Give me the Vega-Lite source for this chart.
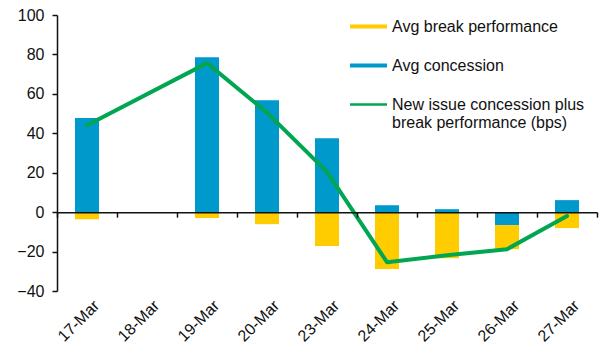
{
  "$schema": "https://vega.github.io/schema/vega-lite/v6.json",
  "width": 540,
  "height": 276,
  "autosize": {"type": "none"},
  "padding": {"left": 57, "top": 15, "right": 16, "bottom": 62},
  "background": "white",
  "config": {
    "view": {"stroke": null},
    "font": "Liberation Sans",
    "axis": {"labelFont": "Liberation Sans", "labelColor": "#111111", "domainColor": "#111111", "tickColor": "#111111", "grid": false, "title": null}
  },
  "datasets": {
    "bars": [
      {"date": "17-Mar", "series": "Avg concession", "ord": 1, "value": 47.7},
      {"date": "17-Mar", "series": "Avg break performance", "ord": 2, "value": -3.6},
      {"date": "19-Mar", "series": "Avg concession", "ord": 1, "value": 78.6},
      {"date": "19-Mar", "series": "Avg break performance", "ord": 2, "value": -3.0},
      {"date": "20-Mar", "series": "Avg concession", "ord": 1, "value": 56.8},
      {"date": "20-Mar", "series": "Avg break performance", "ord": 2, "value": -6.1},
      {"date": "23-Mar", "series": "Avg concession", "ord": 1, "value": 37.5},
      {"date": "23-Mar", "series": "Avg break performance", "ord": 2, "value": -17.2},
      {"date": "24-Mar", "series": "Avg concession", "ord": 1, "value": 3.5},
      {"date": "24-Mar", "series": "Avg break performance", "ord": 2, "value": -28.9},
      {"date": "25-Mar", "series": "Avg concession", "ord": 1, "value": 1.5},
      {"date": "25-Mar", "series": "Avg break performance", "ord": 2, "value": -23.4},
      {"date": "26-Mar", "series": "Avg concession", "ord": 1, "value": -6.6},
      {"date": "26-Mar", "series": "Avg break performance", "ord": 2, "value": -12.2},
      {"date": "27-Mar", "series": "Avg concession", "ord": 1, "value": 6.1},
      {"date": "27-Mar", "series": "Avg break performance", "ord": 2, "value": -8.1}
    ],
    "line": [
      {"date": "17-Mar", "total": 44.1},
      {"date": "19-Mar", "total": 75.6},
      {"date": "20-Mar", "total": 50.5},
      {"date": "23-Mar", "total": 20.4},
      {"date": "24-Mar", "total": -25.4},
      {"date": "25-Mar", "total": -21.9},
      {"date": "26-Mar", "total": -18.8},
      {"date": "27-Mar", "total": -2.0}
    ]
  },
  "resolve": {"axis": {"x": "independent"}},
  "layer": [
    {
      "data": {"name": "bars"},
      "mark": {"type": "bar", "width": {"band": 0.4}},
      "encoding": {
        "x": {
          "field": "date", "type": "nominal", "sort": null,
          "scale": {"domain": ["17-Mar","18-Mar","19-Mar","20-Mar","23-Mar","24-Mar","25-Mar","26-Mar","27-Mar"], "paddingInner": 0, "paddingOuter": 0},
          "axis": {"orient": "bottom", "offset": -78.86, "labels": false, "tickBand": "extent", "tickSize": 5, "domainWidth": 1.5, "tickWidth": 1.5, "zindex": 1}
        },
        "y": {
          "field": "value", "type": "quantitative", "stack": "zero",
          "scale": {"domain": [-40, 100], "nice": false, "zero": false},
          "axis": {"values": [-40,-20,0,20,40,60,80,100], "labelFontSize": 16, "labelPadding": 8, "tickSize": 5, "domainWidth": 1.5, "tickWidth": 1.5}
        },
        "color": {
          "field": "series", "type": "nominal",
          "scale": {"domain": ["Avg break performance", "Avg concession", "New issue concession plus break performance (bps)"], "range": ["#FFCC00", "#0099CC", "#00A651"]},
          "legend": {
            "orient": "none", "legendX": 293, "legendY": -7, "title": null,
            "symbolType": "M-1,-0.11H1V0.11H-1Z", "symbolSize": 1369,
            "labelFont": "Liberation Sans", "labelFontSize": 16, "labelColor": "#111111", "labelLimit": 0, "labelOffset": 5,
            "rowPadding": 12,
            "labelExpr": "datum.label == 'New issue concession plus break performance (bps)' ? ['New issue concession plus', 'break performance (bps)'] : datum.label",
            "encode": {
              "symbols": {"update": {
                "fill": {"scale": "color", "field": "value"},
                "strokeWidth": {"value": 0},
                "opacity": {"value": 1},
                "shape": {"signal": "datum.value == 'New issue concession plus break performance (bps)' ? 'M-1,-0.065H1V0.065H-1Z' : 'M-1,-0.11H1V0.11H-1Z'"}
              }}
            }
          }
        },
        "order": {"field": "ord", "type": "quantitative"}
      }
    },
    {
      "data": {"name": "line"},
      "mark": {"type": "line", "strokeWidth": 4, "strokeJoin": "round", "strokeCap": "round"},
      "encoding": {
        "x": {
          "field": "date", "type": "nominal", "sort": null,
          "axis": {"orient": "bottom", "labelAngle": -45, "labelFontSize": 16, "labelPadding": 6, "labelOffset": 4, "domain": false, "ticks": false}
        },
        "y": {
          "field": "total", "type": "quantitative",
          "axis": {"values": [-40,-20,0,20,40,60,80,100], "labelFontSize": 16, "labelPadding": 8, "tickSize": 5, "domainWidth": 1.5, "tickWidth": 1.5}
        },
        "color": {"datum": "New issue concession plus break performance (bps)"}
      }
    }
  ]
}
